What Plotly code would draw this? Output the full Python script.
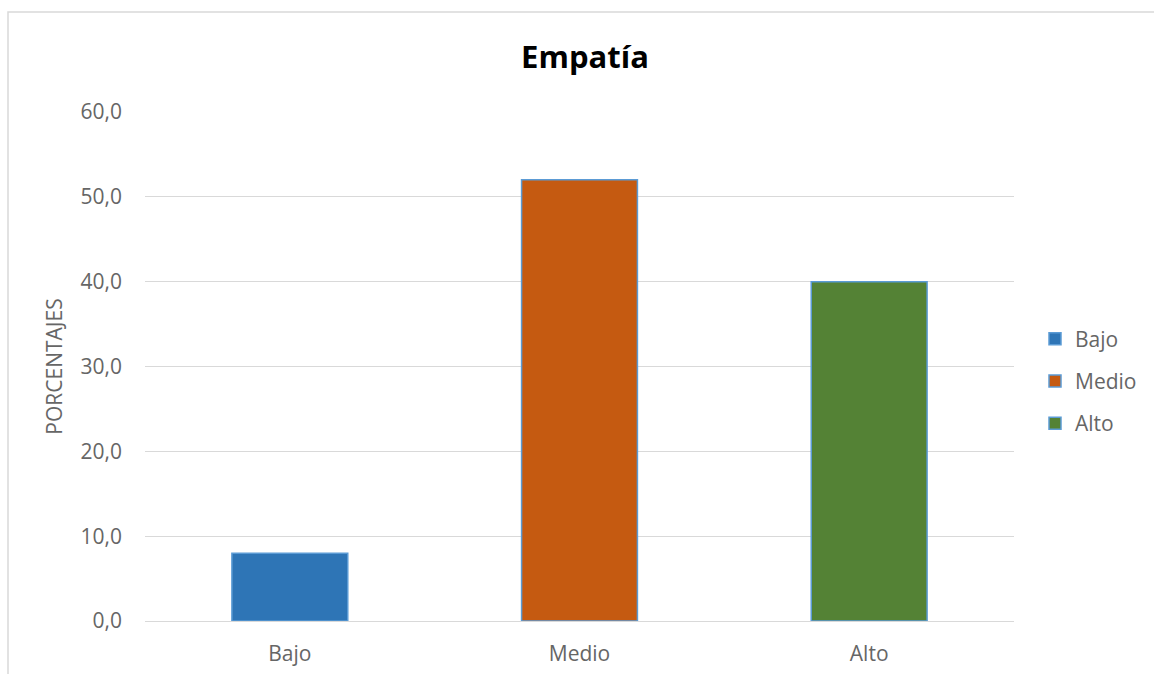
import plotly.graph_objects as go

categories = ["Bajo", "Medio", "Alto"]
values = [8.0, 52.0, 40.0]
colors = ["#2E75B6", "#C55A11", "#548235"]

FONT = "Open Sans, Lato, sans-serif"

fig = go.Figure()
for i, (c, v, col) in enumerate(zip(categories, values, colors)):
    fig.add_trace(go.Bar(
        x=[c], y=[v], name=c, width=0.4,
        marker=dict(color=col, line=dict(color="#5B9BD5", width=1.5)),
        legendgroup=c, offsetgroup="a",
    ))

L, R, T, B = 145, 140, 112, 53
W, H = 1154, 674
pw = W - L - R
ph = H - T - B

fig.update_layout(
    width=W, height=H,
    margin=dict(l=L, r=R, t=T, b=B, autoexpand=False),
    paper_bgcolor="white", plot_bgcolor="white",
    separators=",.",
    barmode="overlay",
    font=dict(family=FONT, color="#595959", size=21),
    title=dict(text="<b>Empatía</b>", x=585 / W, xanchor="center",
               y=1 - 57 / H, yanchor="middle",
               font=dict(size=31, color="#000000", family=FONT)),
    yaxis=dict(range=[0, 60], dtick=10, tickformat=".1f", showgrid=True,
               gridcolor="#D9D9D9", gridwidth=1.3, zeroline=False,
               showline=False, ticks="", ticklabelstandoff=22, automargin=False,
               tickfont=dict(size=21, color="#666666"),
               title=dict(text="PORCENTAJES", font=dict(size=21, color="#666666"), standoff=12)),
    xaxis=dict(showline=True, linecolor="#D9D9D9", linewidth=1.3, ticks="",
               automargin=False,
               tickfont=dict(size=21, color="#666666"), ticklabelstandoff=14),
    legend=dict(x=(1035 - L) / pw, xanchor="left", y=(H - B - 381) / ph, yanchor="middle",
                font=dict(size=21, color="#666666"), tracegroupgap=12,
                itemwidth=30, bgcolor="rgba(0,0,0,0)"),
    showlegend=True,
)

fig.add_shape(type="rect", xref="paper", yref="paper",
              x0=(8 - L) / pw, x1=(W + 20 - L) / pw,
              y0=(H - B - (H + 20)) / ph, y1=(H - B - 12) / ph,
              line=dict(color="#D9D9D9", width=1.5), fillcolor="rgba(0,0,0,0)", layer="below")

fig.write_html("out.html")
